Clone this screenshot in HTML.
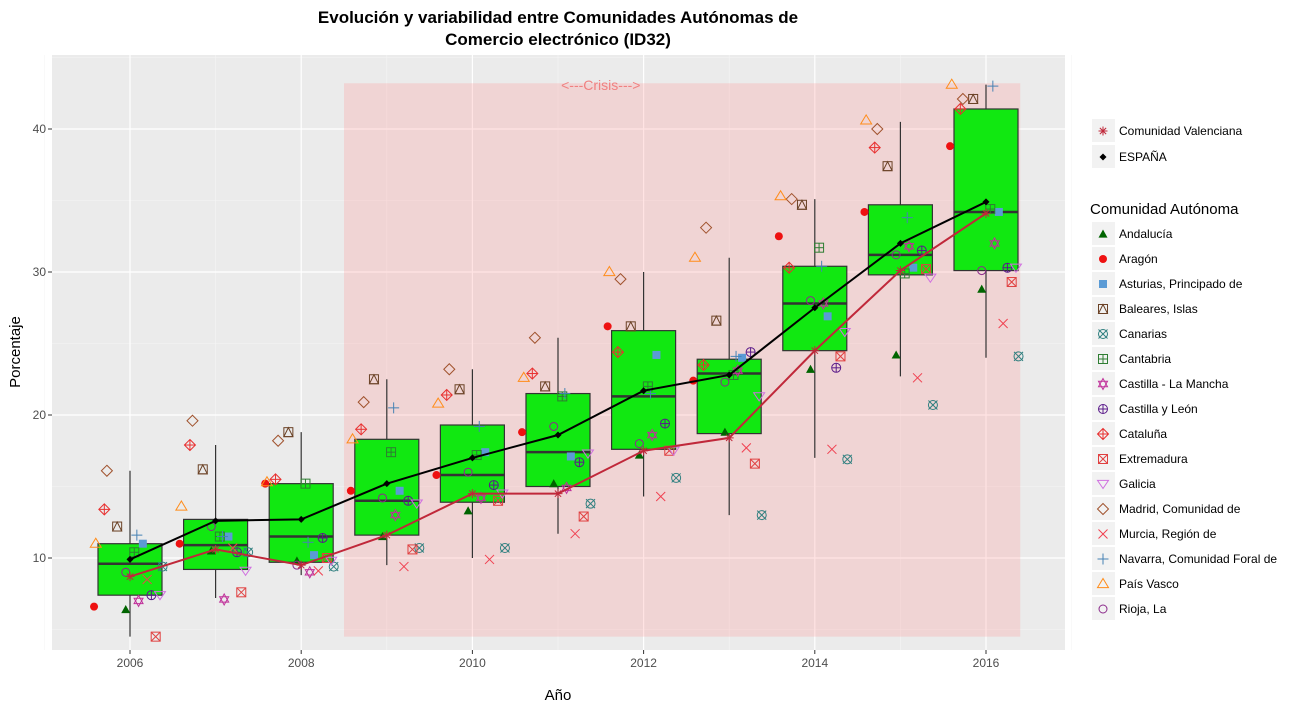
<!DOCTYPE html>
<html><head><meta charset="utf-8"><style>
body{margin:0;background:#fff;font-family:"Liberation Sans",sans-serif}
svg text{font-family:"Liberation Sans",sans-serif}
</style></head><body>
<svg id="c" width="1299" height="710" xmlns="http://www.w3.org/2000/svg"></svg>
<script>
const years=[2006,2007,2008,2009,2010,2011,2012,2013,2014,2015,2016];
const boxLow=[7.4,9.2,9.7,11.6,13.9,15.0,17.6,18.7,24.5,29.8,30.1];
const boxMed=[9.6,10.9,11.5,14.0,15.8,17.4,21.3,22.9,27.8,31.2,34.2];
const boxHigh=[11.0,12.7,15.2,18.3,19.3,21.5,25.9,23.9,30.4,34.7,41.4];
const whiskLow=[4.5,7.2,8.8,9.5,10.0,11.7,14.3,13.0,17.0,22.7,24.0];
const whiskHigh=[16.1,17.9,18.8,22.5,23.2,25.4,30.0,31.0,35.1,40.5,43.1];
const espana=[9.9,12.6,12.7,15.2,17.0,18.6,21.7,22.8,27.5,32.0,34.9];
const valenciana=[8.7,10.6,9.5,11.6,14.5,14.5,17.5,18.4,24.5,30.1,34.1];
const communities=["Andalucía","Aragón","Asturias, Principado de","Baleares, Islas","Canarias","Cantabria","Castilla - La Mancha","Castilla y León","Cataluña","Extremadura","Galicia","Madrid, Comunidad de","Murcia, Región de","Navarra, Comunidad Foral de","País Vasco","Rioja, La"];
const cAndalucia=[6.4,10.5,9.8,11.5,13.3,15.2,17.2,18.8,23.2,24.2,28.8];
const cAragon=[6.6,11.0,15.2,14.7,15.8,18.8,26.2,22.4,32.5,34.2,38.8];
const cAsturias=[11.0,11.5,10.2,14.7,17.4,17.1,24.2,24.0,26.9,30.3,34.2];
const cBaleares=[12.2,16.2,18.8,22.5,21.8,22.0,26.2,26.6,34.7,37.4,42.1];
const cCanarias=[9.4,10.4,9.4,10.7,10.7,13.8,15.6,13.0,16.9,20.7,24.1];
const cCantabria=[10.4,11.5,15.2,17.4,17.2,21.3,22.0,22.8,31.7,29.9,34.4];
const cCLM=[7.0,7.1,9.0,13.0,14.2,14.9,18.6,23.1,27.8,31.8,32.0];
const cCyL=[7.4,10.4,11.4,14.0,15.1,16.7,19.4,24.4,23.3,31.5,30.3];
const cCataluna=[13.4,17.9,15.5,19.0,21.4,22.9,24.4,23.5,30.3,38.7,41.4];
const cExtremadura=[4.5,7.6,10.0,10.6,14.0,12.9,17.5,16.6,24.1,30.2,29.3];
const cGalicia=[7.4,9.1,9.8,13.8,14.5,17.3,17.5,21.3,25.8,29.6,30.3];
const cMadrid=[16.1,19.6,18.2,20.9,23.2,25.4,29.5,33.1,35.1,40.0,42.1];
const cMurcia=[8.5,10.7,9.1,9.4,9.9,11.7,14.3,17.7,17.6,22.6,26.4];
const cNavarra=[11.6,11.5,11.1,20.5,19.2,21.5,21.5,24.1,30.4,33.8,43.0];
const cPaisVasco=[11.0,13.6,15.3,18.3,20.8,22.6,30.0,31.0,35.3,40.6,43.1];
const cRioja=[9.0,12.2,9.5,14.2,16.0,19.2,18.0,22.3,28.0,31.2,30.1];
const yTicks=[10,20,30,40];
const xTicks=[2006,2008,2010,2012,2014,2016];

const series=[cAndalucia,cAragon,cAsturias,cBaleares,cCanarias,cCantabria,cCLM,cCyL,cCataluna,cExtremadura,cGalicia,cMadrid,cMurcia,cNavarra,cPaisVasco,cRioja];
const colors=["#006400","#ee1111","#5b9bd5","#6b4226","#2f7f7f","#2e7d32","#c0309a","#5a1a8a","#e83030","#e04040","#d070e0","#a0522d","#f04050","#4682b4","#ff8c1a","#8b2a8b"];
const shapes=["tri","circ","sq","sqtri","circx","sqplus","star","circplus","diaplus","sqx","tridown","dia","x","plus","triopen","circopen"];
const offs=[-0.05,-0.42,0.15,-0.15,0.38,0.05,0.1,0.25,-0.3,0.3,0.35,-0.27,0.2,0.08,-0.4,-0.05];

const S=document.getElementById('c'),NS="http://www.w3.org/2000/svg";
function el(t,a,p){const e=document.createElementNS(NS,t);for(const k in a)e.setAttribute(k,a[k]);(p||S).appendChild(e);return e;}
const X=v=>130+(v-2006)*85.6, Y=v=>701-v*14.3;
const PX0=52,PX1=1065,PY0=55,PY1=650;

let g=el('g',{});  
el('rect',{x:PX0,y:PY0,width:PX1-PX0,height:PY1-PY0,fill:'#ebebeb'},g);
for(let v=5;v<=45;v+=10){el('line',{x1:PX0,x2:PX1,y1:Y(v),y2:Y(v),stroke:'#f5f5f5','stroke-width':0.6},g);}
for(let v=2005;v<=2017;v+=2){el('line',{y1:PY0,y2:PY1,x1:X(v),x2:X(v),stroke:'#f5f5f5','stroke-width':0.6},g);}
yTicks.forEach(v=>{el('line',{x1:PX0,x2:PX1,y1:Y(v),y2:Y(v),stroke:'#fff','stroke-width':1.2},g);
 const t=el('text',{x:46,y:Y(v)+4,'text-anchor':'end','font-size':12,fill:'#4d4d4d'});t.textContent=v;
 
 el('line',{x1:48,x2:PX0,y1:Y(v),y2:Y(v),stroke:'#333'});});
xTicks.forEach(v=>{el('line',{y1:PY0,y2:PY1,x1:X(v),x2:X(v),stroke:'#fff','stroke-width':1.2},g);
 const t=el('text',{x:X(v),y:667,'text-anchor':'middle','font-size':12,fill:'#4d4d4d'});t.textContent=v;
 
 el('line',{y1:PY1,y2:PY1+4,x1:X(v),x2:X(v),stroke:'#333'});});

let cr=el('rect',{x:X(2008.5),y:Y(43.2),width:X(16.4+2000)-X(2008.5),height:Y(4.5)-Y(43.2),fill:'#ff9999','fill-opacity':0.28});

let ct=el('text',{x:X(2011.5),y:90,'text-anchor':'middle','font-size':14,fill:'#f08080'});ct.textContent='<---Crisis--->';


years.forEach((yr,i)=>{
 const cx=X(yr),w=32;
 let wl=el('line',{x1:cx,x2:cx,y1:Y(whiskHigh[i]),y2:Y(whiskLow[i]),stroke:'#333','stroke-width':1.2});
 
 let b=el('rect',{x:cx-w,y:Y(boxHigh[i]),width:2*w,height:Y(boxLow[i])-Y(boxHigh[i]),fill:'#11e811',stroke:'#333','stroke-width':1.2});
 
 let m=el('line',{x1:cx-w,x2:cx+w,y1:Y(boxMed[i]),y2:Y(boxMed[i]),stroke:'#333','stroke-width':2.5});
 
});

function shape(s,x,y,c,p){
 const r=4.5,a={fill:'none',stroke:c,'stroke-width':1};
 const L=(x1,y1,x2,y2)=>el('line',Object.assign({x1,y1,x2,y2},a),p);
 switch(s){
 case 'tri':el('polygon',{points:`${x},${y-r} ${x-r},${y+r*0.8} ${x+r},${y+r*0.8}`,fill:c},p);break;
 case 'circ':el('circle',{cx:x,cy:y,r:4,fill:c},p);break;
 case 'sq':el('rect',{x:x-4,y:y-4,width:8,height:8,fill:c},p);break;
 case 'sqtri':el('rect',Object.assign({x:x-r,y:y-r,width:2*r,height:2*r},a),p);el('polygon',Object.assign({points:`${x},${y-r} ${x-r},${y+r} ${x+r},${y+r}`},a),p);break;
 case 'circx':el('circle',Object.assign({cx:x,cy:y,r:r},a),p);L(x-r,y-r,x+r,y+r);L(x-r,y+r,x+r,y-r);break;
 case 'sqplus':el('rect',Object.assign({x:x-r,y:y-r,width:2*r,height:2*r},a),p);L(x-r,y,x+r,y);L(x,y-r,x,y+r);break;
 case 'star':el('polygon',Object.assign({points:`${x},${y-r-1} ${x-r},${y+r*0.6} ${x+r},${y+r*0.6}`},a),p);el('polygon',Object.assign({points:`${x},${y+r+1} ${x-r},${y-r*0.6} ${x+r},${y-r*0.6}`},a),p);break;
 case 'circplus':el('circle',Object.assign({cx:x,cy:y,r:r},a),p);L(x-r,y,x+r,y);L(x,y-r,x,y+r);break;
 case 'diaplus':el('polygon',Object.assign({points:`${x},${y-r-1} ${x+r+1},${y} ${x},${y+r+1} ${x-r-1},${y}`},a),p);L(x-r-1,y,x+r+1,y);L(x,y-r-1,x,y+r+1);break;
 case 'sqx':el('rect',Object.assign({x:x-r,y:y-r,width:2*r,height:2*r},a),p);L(x-r,y-r,x+r,y+r);L(x-r,y+r,x+r,y-r);break;
 case 'tridown':el('polygon',Object.assign({points:`${x},${y+r} ${x-r-1},${y-r*0.8} ${x+r+1},${y-r*0.8}`},a),p);break;
 case 'dia':el('polygon',Object.assign({points:`${x},${y-r-1} ${x+r+1},${y} ${x},${y+r+1} ${x-r-1},${y}`},a),p);break;
 case 'x':L(x-r,y-r,x+r,y+r);L(x-r,y+r,x+r,y-r);break;
 case 'plus':L(x-r-1,y,x+r+1,y);L(x,y-r-1,x,y+r+1);break;
 case 'triopen':el('polygon',Object.assign({points:`${x},${y-r-1} ${x-r-1},${y+r*0.8} ${x+r+1},${y+r*0.8}`},a),p);break;
 case 'circopen':el('circle',Object.assign({cx:x,cy:y,r:r-0.5},a),p);break;
 case 'asterisk':L(x-r,y,x+r,y);L(x,y-r,x,y+r);L(x-r*0.7,y-r*0.7,x+r*0.7,y+r*0.7);L(x-r*0.7,y+r*0.7,x+r*0.7,y-r*0.7);break;
 case 'diafill':el('polygon',{points:`${x},${y-3.5} ${x+3.5},${y} ${x},${y+3.5} ${x-3.5},${y}`,fill:c},p);break;
 }
}
series.forEach((arr,k)=>{
 const pg=el('g',{});
 arr.forEach((v,i)=>shape(shapes[k],X(years[i]+offs[k]),Y(v),colors[k],pg));
});
function line(arr,col,sh,name){
 const lg=el('g',{});
 el('polyline',{points:arr.map((v,i)=>X(years[i])+','+Y(v)).join(' '),fill:'none',stroke:col,'stroke-width':2},lg);
 arr.forEach((v,i)=>shape(sh,X(years[i]),Y(v),col,lg));
}
line(valenciana,'#c0283a','asterisk','line-valenciana');
line(espana,'#000','diafill','line-espana');

// titles
const T=(x,y,s,txt,n,extra)=>{const t=el('text',Object.assign({x,y,'font-size':s,fill:'#000'},extra||{}));t.textContent=txt;return t;};
T(558,23,17,'Evolución y variabilidad entre Comunidades Autónomas de','chart-title',{'text-anchor':'middle','font-weight':'bold'});
T(558,45,17,'Comercio electrónico (ID32)','chart-subtitle',{'text-anchor':'middle','font-weight':'bold'});
T(558,700,15,'Año','x-axis-title',{'text-anchor':'middle'});
T(20,352,15,'Porcentaje','y-axis-title',{'text-anchor':'middle',transform:'rotate(-90 20 352)'});

// legend
function key(y,sh,col,label){
 const kg=el('g',{});
 el('rect',{x:1092,y:y-12,width:23,height:23,fill:'#f2f2f2'},kg);
 shape(sh,1103,y,col,kg);
 const t=el('text',{x:1119,y:y+4,'font-size':12,fill:'#000'},kg);t.textContent=label;
}
key(131,'asterisk','#c0283a','Comunidad Valenciana');
key(157,'diafill','#000','ESPAÑA');
T(1090,214,15,'Comunidad Autónoma','legend-title');
communities.forEach((c,k)=>key(234+k*25,shapes[k],colors[k],c));
</script>
</body></html>
